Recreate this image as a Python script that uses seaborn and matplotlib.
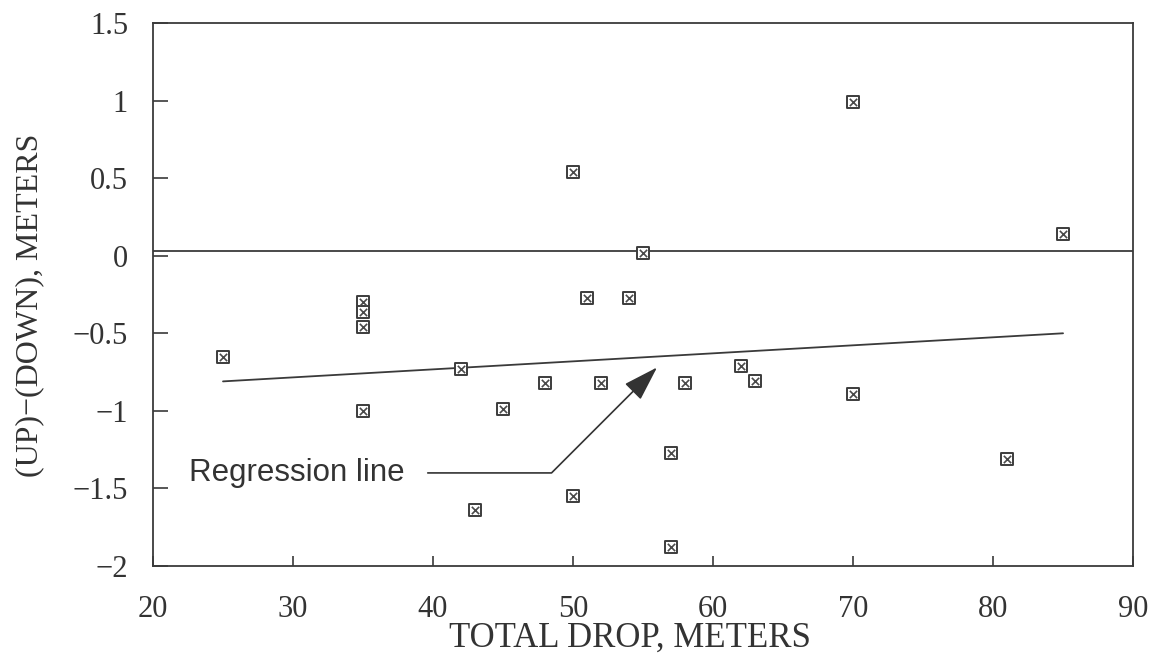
import matplotlib
matplotlib.use("Agg")
import matplotlib.pyplot as plt
import seaborn as sns
import pandas as pd

# measured points: total drop vs (up)-(down)
total_drop = [25, 35, 35, 35, 35, 42, 43, 45, 48, 50, 50, 51, 52, 54, 55,
              57, 57, 58, 62, 63, 70, 70, 81, 85]
up_minus_down = [-0.65, -0.30, -0.36, -0.46, -1.00, -0.73, -1.64, -0.99, -0.82,
                 0.54, -1.55, -0.27, -0.82, -0.27, 0.02, -1.27, -1.88, -0.82,
                 -0.71, -0.81, 0.99, -0.89, -1.31, 0.14]

# fitted regression line (end points)
reg_x = [25, 85]
reg_y = [-0.81, -0.50]

zero_level = 0.03

x_ticks = [20, 30, 40, 50, 60, 70, 80, 90]
y_ticks = [-2, -1.5, -1, -0.5, 0, 0.5, 1, 1.5]
y_tick_labels = ["\u22122", "\u22121.5", "\u22121", "\u22120.5", "0", "0.5", "1", "1.5"]

df = pd.DataFrame({"drop": total_drop, "diff": up_minus_down})
reg = pd.DataFrame({"x": reg_x, "y": reg_y})

sns.set_style("ticks")
plt.rcParams["font.family"] = ["Liberation Serif", "DejaVu Serif"]

line_col = "#3a3a3a"
fig = plt.figure(figsize=(11.53, 6.53), dpi=100)
ax = fig.add_axes([0.1327, 0.1332, 0.85, 0.8316])

ax.axhline(zero_level, color=line_col, lw=1.3, zorder=1)
sns.lineplot(data=reg, x="x", y="y", ax=ax, color=line_col, lw=1.3, zorder=1)

sns.scatterplot(data=df, x="drop", y="diff", ax=ax, marker="s", s=78,
                facecolor="white", edgecolor="#3c3c3c", linewidth=1.4, zorder=3)
sns.scatterplot(data=df, x="drop", y="diff", ax=ax, marker="x", s=28,
                color="#4a4a4a", linewidth=1.2, zorder=4)

ax.annotate("Regression line", xy=(56.0, -0.72), xytext=(22.6, -1.40),
            fontsize=22.5, family=["Liberation Sans", "DejaVu Sans"],
            color="#333333", va="center", ha="left",
            arrowprops=dict(arrowstyle="-|>,head_length=1.1,head_width=0.35",
                            connectionstyle="angle,angleA=0,angleB=45,rad=0",
                            color="#333333", lw=1.2, mutation_scale=20,
                            shrinkA=14, shrinkB=0))

ax.set_xlim(20, 90)
ax.set_ylim(-2, 1.5)
ax.set_xticks(x_ticks)
ax.set_yticks(y_ticks)
ax.set_yticklabels(y_tick_labels)
ax.tick_params(direction="in", width=1.2, color=line_col,
               labelsize=22, labelcolor="#333333")
ax.tick_params(axis="x", pad=21, length=7.5)
ax.tick_params(axis="y", pad=18, length=11)

for sp in ax.spines.values():
    sp.set_color(line_col)
    sp.set_linewidth(1.3)

ax.set_xlabel("TOTAL DROP, METERS", fontsize=25, color="#333333")
ax.set_ylabel("(UP)\u2212(DOWN), METERS", fontsize=23, color="#333333")
ax.xaxis.set_label_coords(0.487, -0.103)
ax.yaxis.set_label_coords(-0.111, 0.481)

fig.savefig("out.png", dpi=100)
